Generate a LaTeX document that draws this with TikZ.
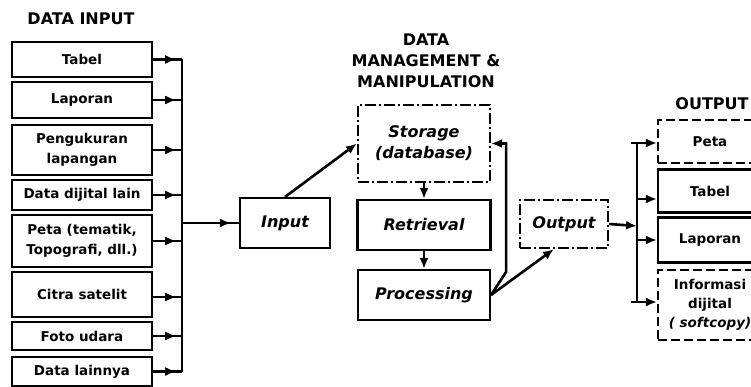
\documentclass[tikz,border=0pt]{standalone}
\usepackage{fontspec}
\setmainfont{DejaVu Sans}
\usetikzlibrary{arrows.meta,decorations.markings}

\begin{document}
\begin{tikzpicture}[x=1pt,y=-1pt,
  tip/.tip={Latex[length=11pt,width=9pt]},
  conn/.style={line width=2.6pt},
  arr/.style={conn,-tip},
  midarrow/.style={conn,postaction={decorate},
    decoration={markings,mark=at position #1 with {\arrow{tip}}}},
  basebox/.style={draw,line width=2.1pt,inner sep=0pt,align=center},
  inbox/.style={basebox,minimum width=140pt,
    font=\fontsize{13.5}{20}\selectfont\bfseries},
  procbox/.style={basebox,font=\fontsize{16}{21}\selectfont\bfseries\itshape},
  outbox/.style={basebox,minimum width=104pt,
    font=\fontsize{13.5}{19}\selectfont\bfseries},
  dashdot/.style={dash pattern=on 11pt off 3pt on 2pt off 3pt},
  dashbox/.style={dash pattern=on 9pt off 4pt},
  heading/.style={font=\fontsize{16}{21}\selectfont\bfseries,align=center,inner sep=0pt}
]
\useasboundingbox (0,0) rectangle (751,387);
\fill[white] (0,0) rectangle (751,387);
\clip (0,0) rectangle (751,387);

% headings
\node[heading] (hin) at (81,19) {DATA INPUT};
\node[heading] (hmid) at (426,61) {DATA\\MANAGEMENT \&\\MANIPULATION};
\node[heading] (hout) at (712,104) {OUTPUT};

% data sources
\node[inbox,minimum height=35pt] (tabel) at (82,59.5) {Tabel};
\node[inbox,minimum height=36pt] (laporan) at (82,100) {Laporan};
\node[inbox,minimum height=50pt] (ukur) at (82,150) {Pengukuran\\lapangan};
\node[inbox,minimum height=30pt] (dijital) at (82,195) {Data dijital lain};
\node[inbox,minimum height=52pt] (peta) at (82,241) {Peta (tematik,\\Topografi, dll.)};
\node[inbox,minimum height=45pt] (citra) at (82,294.5) {Citra satelit};
\node[inbox,minimum height=28pt] (foto) at (82,336) {Foto udara};
\node[inbox,minimum height=29pt] (lain) at (82,371.5) {Data lainnya};

% collecting bar
\coordinate (b1) at (182,59.5);
\coordinate (b2) at (182,100);
\coordinate (b3) at (182,150);
\coordinate (b4) at (182,195);
\coordinate (b5) at (182,241);
\coordinate (b6) at (182,297);
\coordinate (b7) at (182,336);
\coordinate (b8) at (182,371.5);
\coordinate (bin) at (182,223);
\draw[conn] (b1) -- (b8);
\foreach \n/\b in {tabel/b1,laporan/b2,ukur/b3,dijital/b4,peta/b5,citra/b6,foto/b7,lain/b8}
  \draw[midarrow=0.8] (\n.east |- \b) -- (\b);

% management and manipulation
\node[procbox,minimum width=90pt,minimum height=50pt] (input) at (285,223) {Input};
\node[procbox,dashdot,minimum width=132pt,minimum height=77pt] (storage) at (424,143.5) {Storage\\(database)};
\node[procbox,minimum width=133pt,minimum height=50pt] (retrieval) at (424,225) {Retrieval};
\node[procbox,minimum width=132pt,minimum height=50pt] (processing) at (424,295) {Processing};
\node[procbox,dashdot,minimum width=88pt,minimum height=48pt] (output) at (564,224) {Output};

\draw[midarrow=0.86] (bin) -- (bin -| input.west);
\draw[arr] (input.north) -- (storage.west);
\draw[arr] (storage.south) -- (retrieval.north);
\draw[arr] (retrieval.south) -- (processing.north);
\draw[arr] (processing.east) -- ++(15,-23) |- (storage.east);
\draw[arr] (processing.east) -- ([xshift=-10pt]output.south);

% output bracket
\coordinate (o1) at (637,143);
\coordinate (o2) at (637,199);
\coordinate (o3) at (637,240);
\coordinate (o4) at (637,302);
\coordinate (oin) at (637,226);
\draw[conn] ([xshift=-6pt]o1) -- (o1) -- (o4) -- ([xshift=-6pt]o4);
\draw[arr] (output.east) -- (oin);

% products
\node[outbox,dashbox,minimum height=43pt] (opeta) at (710,141.5) {Peta};
\node[outbox,minimum height=43pt] (otabel) at (710,191) {Tabel};
\node[outbox,minimum height=45pt] (olaporan) at (710,240) {Laporan};
\node[outbox,dashbox,minimum height=70pt] (oinfo) at (710,305) {Informasi\\dijital\\\textit{( softcopy)}};

\draw[arr] (o1) -- (o1 -| opeta.west);
\draw[arr] (o2) -- (o2 -| otabel.west);
\draw[arr] (o3) -- (o3 -| olaporan.west);
\draw[arr] (o4) -- (o4 -| oinfo.west);
\end{tikzpicture}
\end{document}
